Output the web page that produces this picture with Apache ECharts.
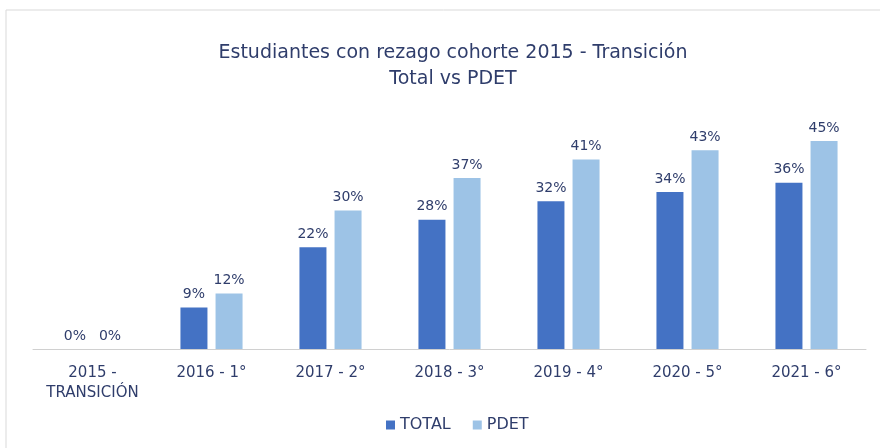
<!DOCTYPE html>
<html>
<head>
<meta charset="utf-8">
<script src="https://cdn.jsdelivr.net/npm/echarts@6/dist/echarts.min.js"></script>
<style>
  html, body { margin: 0; padding: 0; background: #fff; }
  #chart { width: 880px; height: 448px; }
</style>
</head>
<body>
<div id="chart"></div>
<script>
const categories = ['2015 -\nTRANSICIÓN', '2016 - 1°', '2017 - 2°', '2018 - 3°', '2019 - 4°', '2020 - 5°', '2021 - 6°']
const totalValues = [0, 9, 22, 28, 32, 34, 36]
const pdetValues = [0, 12, 30, 37, 41, 43, 45]

const textColor = '#2F3D6B'
const font = '"DejaVu Sans", sans-serif'

const chart = echarts.init(document.getElementById('chart'))

const labelStyle = {
  show: true,
  position: 'top',
  distance: 6,
  formatter: p => p.value + '%',
  color: textColor,
  fontSize: 14,
  fontFamily: font
}

chart.setOption({
  backgroundColor: '#fff',
  animation: false,
  title: {
    text: 'Estudiantes con rezago cohorte 2015 - Transición\nTotal vs PDET',
    left: 448,
    textAlign: 'center',
    top: 35,
    textStyle: {
      color: textColor,
      fontSize: 19,
      fontWeight: 'normal',
      fontFamily: font,
      lineHeight: 26
    }
  },
  graphic: [{
    type: 'rect',
    shape: { x: 6, y: 10, width: 900, height: 460 },
    style: { fill: 'none', stroke: '#d9d9d9', lineWidth: 1 }
  }],
  legend: {
    bottom: 10,
    left: 381,
    itemWidth: 9,
    itemHeight: 9,
    itemGap: 22,
    icon: 'rect',
    textStyle: { color: textColor, fontSize: 16, fontFamily: font },
    data: ['TOTAL', 'PDET']
  },
  grid: {
    left: 33,
    right: 14,
    top: 118,
    height: 231,
    containLabel: false
  },
  xAxis: {
    type: 'category',
    data: categories,
    axisTick: { show: false },
    axisLine: { lineStyle: { color: '#d0d0d0', width: 1 } },
    axisLabel: {
      color: textColor,
      fontSize: 15,
      fontFamily: font,
      margin: 14,
      lineHeight: 20,
      interval: 0
    }
  },
  yAxis: {
    type: 'value',
    min: 0,
    max: 50,
    show: false,
    splitLine: { show: false }
  },
  series: [
    {
      name: 'TOTAL',
      type: 'bar',
      data: totalValues,
      barWidth: 27,
      barGap: '30%',
      itemStyle: { color: '#4472C4' },
      label: labelStyle
    },
    {
      name: 'PDET',
      type: 'bar',
      data: pdetValues,
      barWidth: 27,
      itemStyle: { color: '#9DC3E6' },
      label: labelStyle
    }
  ]
})
</script>
</body>
</html>
